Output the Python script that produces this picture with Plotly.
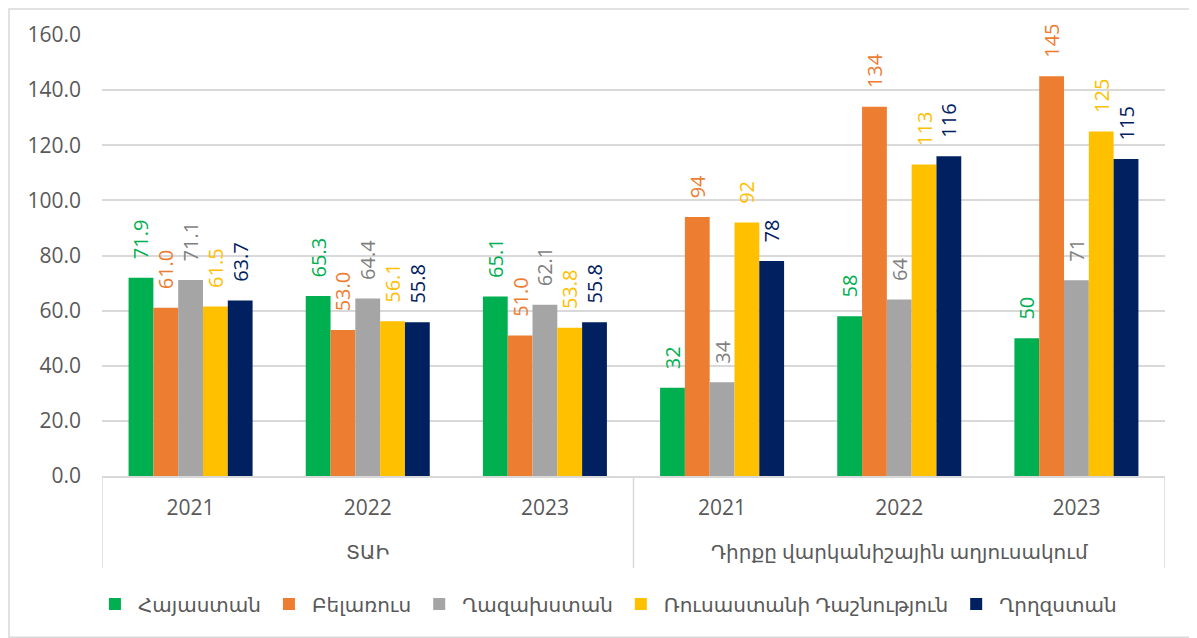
import plotly.graph_objects as go

group_names = ["ՏԱԻ", "Դիրքը վարկանիշային աղյուսակում"]
groups = [0, 0, 0, 1, 1, 1]
years = ["2021", "2022", "2023", "2021", "2022", "2023"]

series_names = ["Հայաստան", "Բելառուս", "Ղազախստան", "Ռուսաստանի Դաշնություն", "Ղրղզստան"]
armenia = [71.9, 65.3, 65.1, 32, 58, 50]
belarus = [61.0, 53.0, 51.0, 94, 134, 145]
kazakhstan = [71.1, 64.4, 62.1, 34, 64, 71]
russia = [61.5, 56.1, 53.8, 92, 113, 125]
kyrgyzstan = [63.7, 55.8, 55.8, 78, 116, 115]

bar_colors = ["#00B050", "#ED7D31", "#A5A5A5", "#FFC000", "#002060"]
label_colors = ["#00B050", "#ED7D31", "#7F7F7F", "#FFC000", "#002060"]

FONT = "'Open Sans', 'DejaVu Sans', sans-serif"
AX = "#D9D9D9"
TXT = "#595959"
PAD = "\u00a0\u00a0\u00a0"  # lifts the rotated labels off the bar tops

xpos = list(range(len(years)))


def fmt(vals):
    return [PAD + (f"{v:.1f}" if g == 0 else f"{v:.0f}") for v, g in zip(vals, groups)]


fig = go.Figure()
for name, vals, bc, lc in zip(series_names, [armenia, belarus, kazakhstan, russia, kyrgyzstan],
                              bar_colors, label_colors):
    fig.add_trace(go.Bar(
        x=xpos, y=vals, name=name,
        marker=dict(color=bc, line=dict(width=0)),
        text=fmt(vals), textposition="outside", textangle=-90,
        constraintext="none",
        textfont=dict(color=lc, size=20, family=FONT),
        cliponaxis=False,
    ))

# page has an 8px body margin, so the figure is 8px smaller and offset
fig.update_layout(
    width=1189, height=630,
    margin=dict(l=94, r=32, t=27, b=162),
    paper_bgcolor="white", plot_bgcolor="white",
    barmode="group", bargap=0.30, bargroupgap=0,
    font=dict(family=FONT, size=20, color=TXT),
    showlegend=True,
    legend=dict(orientation="h", x=0.475, xanchor="center",
                y=-0.29, yanchor="middle", itemwidth=36,
                font=dict(size=20, color=TXT), tracegroupgap=0),
)
fig.update_yaxes(range=[0, 160], dtick=20, tickformat=".1f", showgrid=True,
                 gridcolor=AX, gridwidth=1.5, zeroline=False, showline=False,
                 ticks="", ticklabelstandoff=20, tickfont=dict(size=21, color=TXT))
fig.update_xaxes(range=[-0.5, len(years) - 0.5], tickmode="array", tickvals=xpos, ticktext=years,
                 showgrid=False, zeroline=False, showline=True, linecolor=AX, linewidth=1.5,
                 ticks="", ticklabelstandoff=12, tickfont=dict(size=21, color=TXT))

# category group labels and dividers
for gi, gname in enumerate(group_names):
    members = [p for p, g in zip(xpos, groups) if g == gi]
    center = sum(members) / len(members)
    fig.add_annotation(x=center, xref="x", y=-0.172, yref="paper", text=gname,
                       showarrow=False, yanchor="middle",
                       font=dict(size=20, color=TXT, family=FONT))
    left_edge = min(members) - 0.5
    fig.add_shape(type="line", xref="x", yref="paper", x0=left_edge, x1=left_edge,
                  y0=0, y1=-0.2086, line=dict(color=AX, width=1.5))
fig.add_shape(type="line", xref="x", yref="paper", x0=len(years) - 0.5, x1=len(years) - 0.5,
              y0=0, y1=-0.2086, line=dict(color=AX, width=1.5))

# chart border
fig.add_shape(type="rect", xref="paper", yref="paper",
              x0=-0.0875, x1=1.0292, y0=-0.3655, y1=1.0590,
              line=dict(color=AX, width=1.5), fillcolor="rgba(0,0,0,0)", layer="below")

fig.write_html("out.html")
